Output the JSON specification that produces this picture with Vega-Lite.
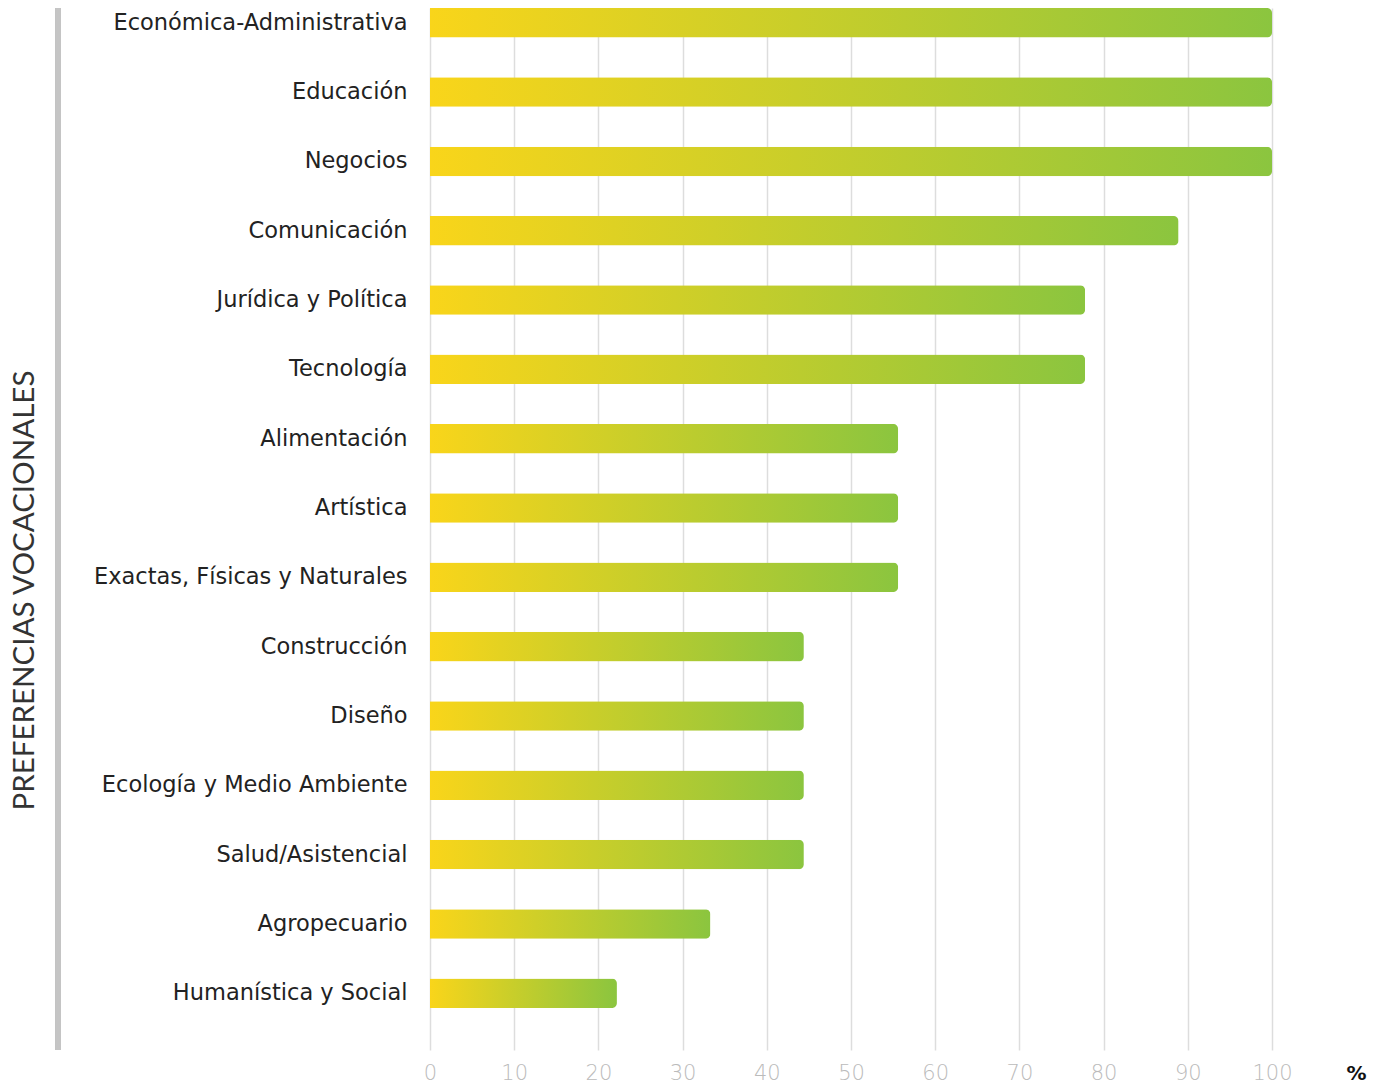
{
  "$schema": "https://vega.github.io/schema/vega-lite/v6.json",
  "autosize": {"type": "none"},
  "padding": {"left": 430, "top": 8, "right": 109, "bottom": 35},
  "width": 842,
  "height": 1042,
  "background": "white",
  "config": {"view": {"stroke": null}},
  "data": {
    "values": [
      {"area": "Económica-Administrativa", "pct": 100},
      {"area": "Educación", "pct": 100},
      {"area": "Negocios", "pct": 100},
      {"area": "Comunicación", "pct": 88.9},
      {"area": "Jurídica y Política", "pct": 77.8},
      {"area": "Tecnología", "pct": 77.8},
      {"area": "Alimentación", "pct": 55.6},
      {"area": "Artística", "pct": 55.6},
      {"area": "Exactas, Físicas y Naturales", "pct": 55.6},
      {"area": "Construcción", "pct": 44.4},
      {"area": "Diseño", "pct": 44.4},
      {"area": "Ecología y Medio Ambiente", "pct": 44.4},
      {"area": "Salud/Asistencial", "pct": 44.4},
      {"area": "Agropecuario", "pct": 33.3},
      {"area": "Humanística y Social", "pct": 22.2}
    ]
  },
  "layer": [
    {
      "mark": {"type": "rule", "color": "#c4c4c4", "strokeWidth": 5, "opacity": 0.85},
      "encoding": {
        "x": {"datum": -44.2, "type": "quantitative"}
      }
    },
    {
      "mark": {
        "type": "bar",
        "cornerRadiusEnd": 5,
        "color": {
          "gradient": "linear",
          "x1": 0, "x2": 1, "y1": 0, "y2": 0,
          "stops": [
            {"offset": 0, "color": "#F9D51A"},
            {"offset": 1, "color": "#8BC53F"}
          ]
        }
      },
      "encoding": {
        "y": {
          "field": "area",
          "type": "nominal",
          "sort": null,
          "scale": {"paddingInner": 0.574, "paddingOuter": 0.303, "align": 0},
          "axis": {
            "title": "PREFERENCIAS VOCACIONALES",
            "titleFont": "Lato",
            "titleFontSize": 29.5,
            "titleFontWeight": "normal",
            "titleColor": "#333333",
            "titleAngle": -90,
            "titleAlign": "center",
            "titleBaseline": "alphabetic",
            "titleX": -397,
            "titleY": 582,
            "labelFont": "DejaVu Sans",
            "labelFontSize": 22.5,
            "labelColor": "#222222",
            "labelPadding": 23,
            "labelLimit": 400,
            "domain": false,
            "ticks": false
          }
        },
        "x": {
          "field": "pct",
          "type": "quantitative",
          "scale": {"domain": [0, 100], "nice": false},
          "axis": {
            "values": [0, 10, 20, 30, 40, 50, 60, 70, 80, 90, 100],
            "title": "%",
            "titleFont": "DejaVu Sans",
            "titleFontSize": 20,
            "titleFontWeight": "bold",
            "titleColor": "#111111",
            "titleAlign": "center",
            "titleBaseline": "alphabetic",
            "titleX": 926,
            "titleY": 29,
            "labelFont": "DejaVu Sans",
            "labelFontSize": 21,
            "labelFontWeight": 300,
            "labelColor": "#bbbbbb",
            "labelPadding": 12,
            "labelFlush": false,
            "grid": true,
            "gridColor": "#dddddd",
            "gridWidth": 1.5,
            "domain": false,
            "ticks": false
          }
        }
      }
    }
  ]
}
